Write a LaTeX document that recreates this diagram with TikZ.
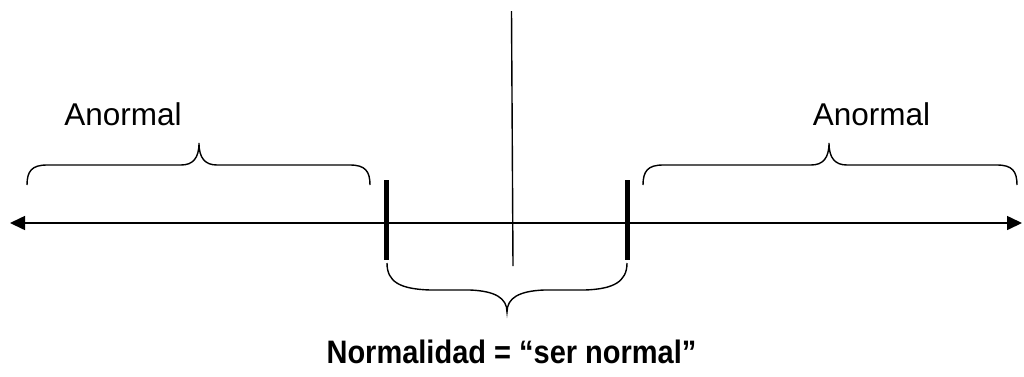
\documentclass[tikz,border=0pt]{standalone}
\usepackage{fontspec}
\setmainfont{Liberation Sans}
\usetikzlibrary{arrows.meta}
\begin{document}
\begin{tikzpicture}[x=1pt,y=-1pt,
  axisline/.style={line width=1.6pt,{Triangle[length=15pt,width=14pt]}-{Triangle[length=15pt,width=14pt]}},
  tickline/.style={line width=5pt},
  bracepath/.style={line width=1.4pt},
  midline/.style={line width=1.4pt},
  lbl/.style={font=\fontsize{31.5}{36}\selectfont, anchor=base, inner sep=0pt},
  title/.style={font=\fontsize{29}{34}\selectfont\bfseries, anchor=base, inner sep=0pt, yscale=1.12}]
\useasboundingbox (0,0) rectangle (1024,376);
% axis
\coordinate (axL) at (10,223);
\coordinate (axR) at (1022,223);
\draw[axisline] (axL) -- (axR);
% ticks
\coordinate (t1top) at (386,180); \coordinate (t1bot) at (386,260);
\coordinate (t2top) at (627,180); \coordinate (t2bot) at (627,260);
\draw[tickline] (t1top) -- (t1bot);
\draw[tickline] (t2top) -- (t2bot);
% center line
\coordinate (mtop) at (511.5,11); \coordinate (mbot) at (513,266);
\draw[midline] (mtop) -- (mbot);
% left upper brace
\draw[bracepath] (27,185) .. controls (27,171) and (32,165) .. (47,165) -- (181,165)
  .. controls (193,165) and (199,158) .. (199,143)
  .. controls (199,158) and (205,165) .. (217,165) -- (350,165)
  .. controls (365,165) and (370,171) .. (370,185);
% right upper brace
\draw[bracepath] (643,185) .. controls (643,171) and (648,165) .. (663,165) -- (811,165)
  .. controls (823,165) and (829,158) .. (829,143)
  .. controls (829,158) and (835,165) .. (847,165) -- (997,165)
  .. controls (1012,165) and (1017,171) .. (1017,185);
% bottom brace
\draw[bracepath] (387,263) .. controls (387,282) and (400,289) .. (430,290) -- (470,290)
  .. controls (495,291) and (507,298) .. (507,312)
  .. controls (507,298) and (519,291) .. (544,290) -- (585,290)
  .. controls (613,289) and (627,282) .. (627,263);
% labels
\node[lbl] (anL) at (123,125) {Anormal};
\node[lbl] (anR) at (871.5,125) {Anormal};
\node[title] (norm) at (511.5,363) {Normalidad = “ser normal”};
\end{tikzpicture}
\end{document}
